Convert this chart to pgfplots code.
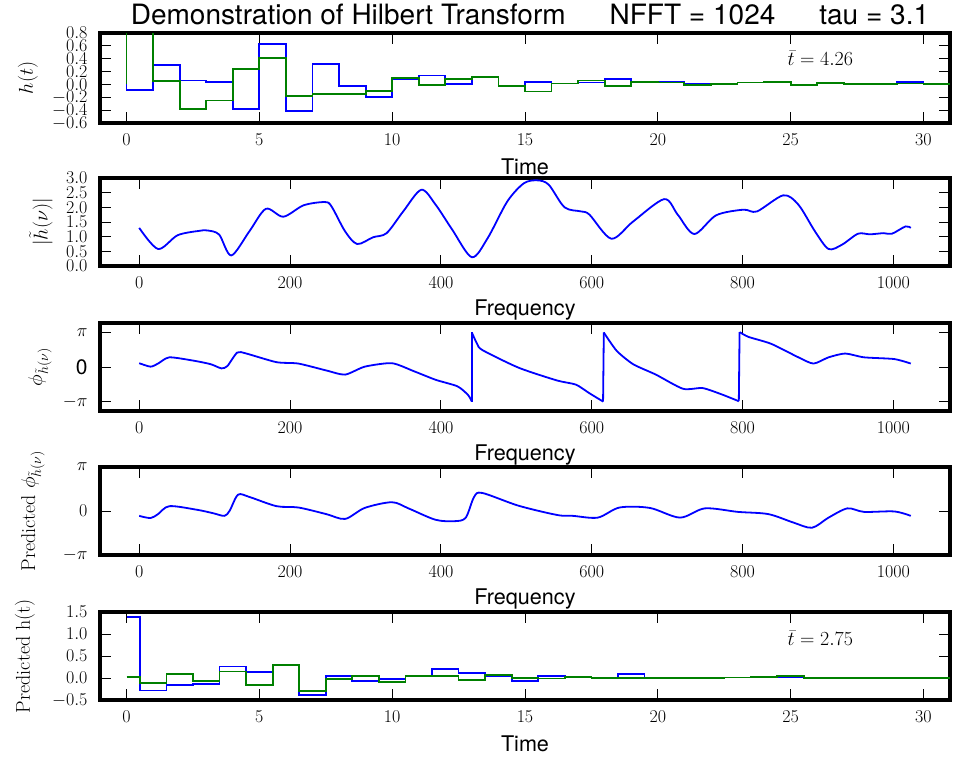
\RequirePackage{fix-cm}
\documentclass[border=0pt]{standalone}
\usepackage{fontspec}
\usepackage{pgfplots}
\pgfplotsset{compat=1.18}
\newfontfamily\hv{TeX Gyre Heros}
\definecolor{mplgreen}{rgb}{0,0.5,0}
\pgfplotsset{
  panel/.style={
    scale only axis, width=850pt, height=88pt,
    anchor=north west,
    axis line style={line width=3.2pt},
    major tick length=11pt,
    every tick/.style={black, line width=1pt},
    tick label style={font=\fontsize{18}{18}\selectfont},
    /pgf/number format/1000 sep={},
    xticklabel style={yshift=-7pt},
    yticklabel style={xshift=-9pt},
    xlabel style={font=\hv\fontsize{21.6}{22}\selectfont, at={([yshift=-44pt]axis description cs:0.5,0)}, anchor=center},
    ylabel style={font=\fontsize{20}{20}\selectfont, anchor=center},
    clip=true,
  },
  timeax/.style={xmin=-1, xmax=31, xtick={0,5,...,30}},
  freqax/.style={xmin=-52, xmax=1075, xtick={0,200,...,1000}},
  bl/.style={blue, line width=1.8pt},
  gr/.style={mplgreen, line width=1.8pt},
}
\begin{document}
\begin{tikzpicture}
\path[use as bounding box] (0,0) rectangle (953pt,-758pt);
\node[font=\hv\fontsize{28}{28}\selectfont, anchor=base] at (530pt,-24pt)
  {Demonstration of Hilbert Transform\hspace{44pt}NFFT = 1024\hspace{44pt}tau = 3.1};

% Panel 1
\begin{axis}[panel, timeax, at={(100pt,-33pt)}, height=90pt,
  ymin=-0.6, ymax=0.8, ytick={-0.6,-0.4,...,0.81},
  yticklabel style={/pgf/number format/fixed, /pgf/number format/fixed zerofill, /pgf/number format/precision=1},
  xlabel={Time}, ylabel={$h(t)$},
  ylabel style={at={([xshift=-72pt]axis description cs:0,0.5)}}]
\addplot[bl, const plot mark right] coordinates {
(0,0) (1,-0.09) (2,0.30) (3,0.06) (4,0.04) (5,-0.38) (6,0.63) (7,-0.41) (8,0.32) (9,-0.02)
(10,-0.19) (11,0.085) (12,0.14) (13,0.01) (14,0.12) (15,-0.02) (16,0.04) (17,0.015) (18,0.03) (19,0.08)
(20,0.04) (21,0.035) (22,0.015) (23,0.005) (24,0.03) (25,0.035) (26,-0.01) (27,0.02) (28,0.01) (29,0.015)
(30,0.035) (31,0.005)};
\addplot[gr, const plot mark right] coordinates {
(0,0) (1,0.95) (2,0.05) (3,-0.38) (4,-0.25) (5,0.24) (6,0.41) (7,-0.175) (8,-0.155) (9,-0.145)
(10,-0.105) (11,0.095) (12,-0.01) (13,0.09) (14,0.11) (15,-0.02) (16,-0.11) (17,0.015) (18,0.06) (19,-0.02)
(20,0.04) (21,0.03) (22,-0.01) (23,0.005) (24,0.03) (25,0.04) (26,-0.01) (27,0.02) (28,0.01) (29,0.01)
(30,0.015) (31,0.005)};
\node[anchor=base west, font=\fontsize{20}{20}\selectfont] at (axis cs:24.75,0.29) {$\bar{t} = 4.26$};
\end{axis}

% Panel 2
\begin{axis}[panel, freqax, at={(100pt,-178pt)},
  ymin=0, ymax=3, ytick={0,0.5,...,3.01},
  yticklabel style={/pgf/number format/fixed, /pgf/number format/fixed zerofill, /pgf/number format/precision=1},
  xlabel={Frequency}, ylabel={$|\tilde{h}(\nu)|$},
  ylabel style={at={([xshift=-59pt]axis description cs:0,0.5)}}]
\addplot[bl, smooth, tension=0.5] coordinates {
(0,1.3) (25,0.58) (51,1.05) (80,1.2) (91,1.21) (106,1.07) (122,0.36) (146,1.18) (168,1.95) (191,1.68)
(218,2.07) (246,2.18) (255,2.03) (273,1.18) (289,0.75) (310,0.98) (328,1.12) (350,1.86) (374,2.6) (393,2.09)
(415,1.24) (441,0.3) (462,0.95) (488,2.2) (510,2.82) (528,2.92) (543,2.77) (564,2.0) (586,1.86) (597,1.75)
(626,0.93) (655,1.52) (696,2.28) (714,1.75) (736,1.09) (765,1.73) (801,1.92) (819,1.86) (854,2.41) (874,2.09)
(896,1.18) (914,0.58) (932,0.73) (953,1.1) (969,1.08) (987,1.12) (998,1.1) (1016,1.35) (1023,1.3)};
\end{axis}

% Panel 3
\begin{axis}[panel, freqax, at={(100pt,-323pt)},
  ymin=-4, ymax=4, ytick={-3.14159,0,3.14159},
  yticklabels={$-\pi$,{\hv\fontsize{21}{21}\selectfont 0},$\pi$},
  xlabel={Frequency}, ylabel={$\phi_{\tilde{h}(\nu)}$},
  ylabel style={at={([xshift=-60pt]axis description cs:0,0.5)}}]
\addplot[bl, smooth, tension=0.4] coordinates {
(0,0.346) (15,0.031) (25,0.314) (40,0.880) (73,0.565) (95,0.251) (109,-0.126) (117,0.094) (130,1.319) (142,1.225)
(182,0.440) (211,0.314) (248,-0.314) (273,-0.691) (299,0.031) (335,0.346) (364,-0.377) (393,-1.162) (422,-1.759) (436,-2.545) (441,-3.14)};
\addplot[bl] coordinates {(441,-3.14) (441,3.14)};
\addplot[bl, smooth, tension=0.4] coordinates {
(441,3.14) (448,2.105) (455,1.539) (503,-0.063) (554,-1.225) (579,-1.602) (597,-2.388) (615,-3.14)};
\addplot[bl] coordinates {(615,-3.14) (616,3.14)};
\addplot[bl, smooth, tension=0.4] coordinates {
(616,3.14) (633,1.477) (655,0.251) (685,-0.691) (721,-1.979) (747,-1.916) (772,-2.482) (795,-3.11)};
\addplot[bl] coordinates {(795,-3.11) (796,3.17)};
\addplot[bl, smooth, tension=0.4] coordinates {
(796,3.17) (808,2.733) (838,2.105) (874,0.880) (894,0.314) (914,0.880) (936,1.225) (961,0.880) (1001,0.723) (1023,0.314)};
\end{axis}

% Panel 4
\begin{axis}[panel, freqax, at={(100pt,-467pt)},
  ymin=-3.14159, ymax=3.14159, ytick={-3.14159,0,3.14159},
  yticklabels={$-\pi$,$0$,$\pi$},
  xlabel={Frequency}, ylabel={Predicted $\phi_{\tilde{h}(\nu)}$},
  ylabel style={at={([xshift=-67pt]axis description cs:0,0.5)}}]
\addplot[bl, smooth, tension=0.5] coordinates {
(0,-0.346) (15,-0.503) (25,-0.220) (40,0.346) (76,0.094) (98,-0.157) (113,-0.346) (120,0.031) (131,1.162) (146,1.005)
(182,0.346) (211,0.251) (248,-0.220) (273,-0.565) (299,0.220) (335,0.628) (357,0.188) (393,-0.628) (419,-0.723) (433,-0.471)
(444,1.005) (455,1.288) (503,0.377) (554,-0.283) (575,-0.346) (608,-0.471) (637,0.251) (677,0.220) (717,-0.471) (750,0.188)
(794,-0.063) (834,-0.220) (867,-0.817) (892,-1.194) (914,-0.471) (939,0.188) (961,-0.063) (1001,-0.031) (1023,-0.346)};
\end{axis}

% Panel 5
\begin{axis}[panel, timeax, at={(100pt,-612pt)},
  ymin=-0.5, ymax=1.5, ytick={-0.5,0,...,1.51},
  yticklabel style={/pgf/number format/fixed, /pgf/number format/fixed zerofill, /pgf/number format/precision=1},
  xlabel={Time}, ylabel={Predicted h(t)},
  ylabel style={at={([xshift=-75pt]axis description cs:0,0.5)}}]
\addplot[bl, const plot mark mid] coordinates {
(0,1.38) (1,-0.285) (2,-0.16) (3,-0.13) (4,0.26) (5,0.13) (6,0.29) (7,-0.38) (8,0.05) (9,-0.07)
(10,-0.015) (11,0.045) (12,0.2) (13,0.12) (14,0.04) (15,-0.075) (16,0.045) (17,0.03) (18,0.0) (19,0.09)
(20,0.0) (21,0.005) (22,0.005) (23,0.01) (24,0.01) (25,0.015) (26,0.0) (27,0.0) (28,0.005) (29,0.0)
(30,0.0) (31,0.0)};
\addplot[gr, const plot mark mid] coordinates {
(0,0.015) (1,-0.105) (2,0.1) (3,-0.075) (4,0.15) (5,-0.15) (6,0.29) (7,-0.3) (8,-0.03) (9,0.045)
(10,-0.09) (11,0.045) (12,0.045) (13,-0.045) (14,0.075) (15,0.0) (16,-0.01) (17,0.03) (18,0.0) (19,0.0)
(20,0.0) (21,0.005) (22,0.005) (23,0.01) (24,0.02) (25,0.04) (26,0.0) (27,0.0) (28,0.005) (29,0.0)
(30,0.0) (31,0.0)};
\node[anchor=base west, font=\fontsize{20}{20}\selectfont] at (axis cs:24.75,0.73) {$\bar{t} = 2.75$};
\end{axis}
\end{tikzpicture}
\end{document}
